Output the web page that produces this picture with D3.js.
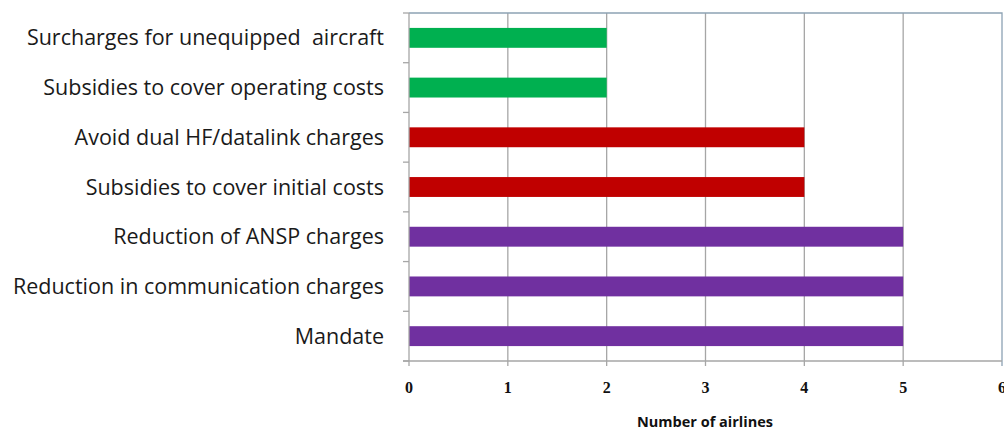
<!DOCTYPE html>
<html>
<head>
<meta charset="utf-8">
<script src="https://cdn.jsdelivr.net/npm/d3@7"></script>
<style>
  body { margin: 0; background: #fff; }
  svg { display: block; }
</style>
</head>
<body>
<svg id="chart" width="1004" height="430"></svg>
<script>
const categories = [
  'Surcharges for unequipped  aircraft',
  'Subsidies to cover operating costs',
  'Avoid dual HF/datalink charges',
  'Subsidies to cover initial costs',
  'Reduction of ANSP charges',
  'Reduction in communication charges',
  'Mandate',
];
const values = [2, 2, 4, 4, 5, 5, 5];
const barColors = ['#00b050', '#00b050', '#c00000', '#c00000', '#7030a0', '#7030a0', '#7030a0'];
const xTicks = [0, 1, 2, 3, 4, 5, 6];

const margin = { top: 13, right: 2, bottom: 69, left: 409 };
const width = 1004;
const height = 430;
const svg = d3.select('#chart');

const x = d3.scaleLinear([0, 6], [margin.left, width - margin.right]);
const y = d3.scaleBand(categories, [margin.top, height - margin.bottom]).paddingInner(0.6).paddingOuter(0.3);
const yOuter = d3.scaleBand(categories, [margin.top, height - margin.bottom]);

// gridlines
svg.append('g')
  .selectAll('line')
  .data(xTicks.slice(1, -1))
  .join('line')
  .attr('x1', (d) => x(d))
  .attr('x2', (d) => x(d))
  .attr('y1', margin.top)
  .attr('y2', height - margin.bottom + 5)
  .attr('stroke', '#a6a6a6')
  .attr('stroke-width', 1.3);

// plot border (top / right)
svg.append('path')
  .attr('d', `M${x(0)},${margin.top}H${x(6)}V${height - margin.bottom + 5}`)
  .attr('fill', 'none')
  .attr('stroke', '#8da2b4')
  .attr('stroke-width', 1.3);

// bars
svg.append('g')
  .selectAll('rect')
  .data(categories)
  .join('rect')
  .attr('x', x(0))
  .attr('y', (d) => y(d))
  .attr('width', (d, i) => x(values[i]) - x(0))
  .attr('height', y.bandwidth())
  .attr('fill', (d, i) => barColors[i]);

// left axis line + ticks at band edges
const edges = categories.map((d) => yOuter(d)).concat([height - margin.bottom]);
svg.append('line')
  .attr('x1', x(0)).attr('x2', x(0))
  .attr('y1', margin.top).attr('y2', height - margin.bottom + 5)
  .attr('stroke', '#a6a6a6').attr('stroke-width', 1.3);
svg.append('g')
  .selectAll('line')
  .data(edges)
  .join('line')
  .attr('x1', x(0) - 6)
  .attr('x2', x(0))
  .attr('y1', (d) => d)
  .attr('y2', (d) => d)
  .attr('stroke', '#a6a6a6')
  .attr('stroke-width', 1.3);

// bottom axis line
svg.append('line')
  .attr('x1', x(0) - 6).attr('x2', x(6))
  .attr('y1', height - margin.bottom).attr('y2', height - margin.bottom)
  .attr('stroke', '#a6a6a6').attr('stroke-width', 1.3);

// category labels
svg.append('g')
  .selectAll('text')
  .data(categories)
  .join('text')
  .attr('x', 384)
  .attr('y', (d) => yOuter(d) + yOuter.bandwidth() / 2)
  .attr('dy', '0.35em')
  .attr('text-anchor', 'end')
  .attr('font-family', '"Open Sans", sans-serif')
  .attr('font-size', 21.5)
  .attr('fill', '#1a1a1a')
  .style('white-space', 'pre')
  .text((d) => d);

// tick labels
svg.append('g')
  .selectAll('text')
  .data(xTicks)
  .join('text')
  .attr('x', (d) => x(d))
  .attr('y', 393)
  .attr('text-anchor', 'middle')
  .attr('font-family', '"Liberation Serif", "DejaVu Serif", serif')
  .attr('font-weight', 'bold')
  .attr('font-size', 16)
  .attr('fill', '#111')
  .text((d) => d);

// axis title
svg.append('text')
  .attr('x', 705)
  .attr('y', 427)
  .attr('text-anchor', 'middle')
  .attr('font-family', '"Open Sans", sans-serif')
  .attr('font-weight', 'bold')
  .attr('font-size', 14.5)
  .attr('fill', '#111')
  .text('Number of airlines');
</script>
</body>
</html>
